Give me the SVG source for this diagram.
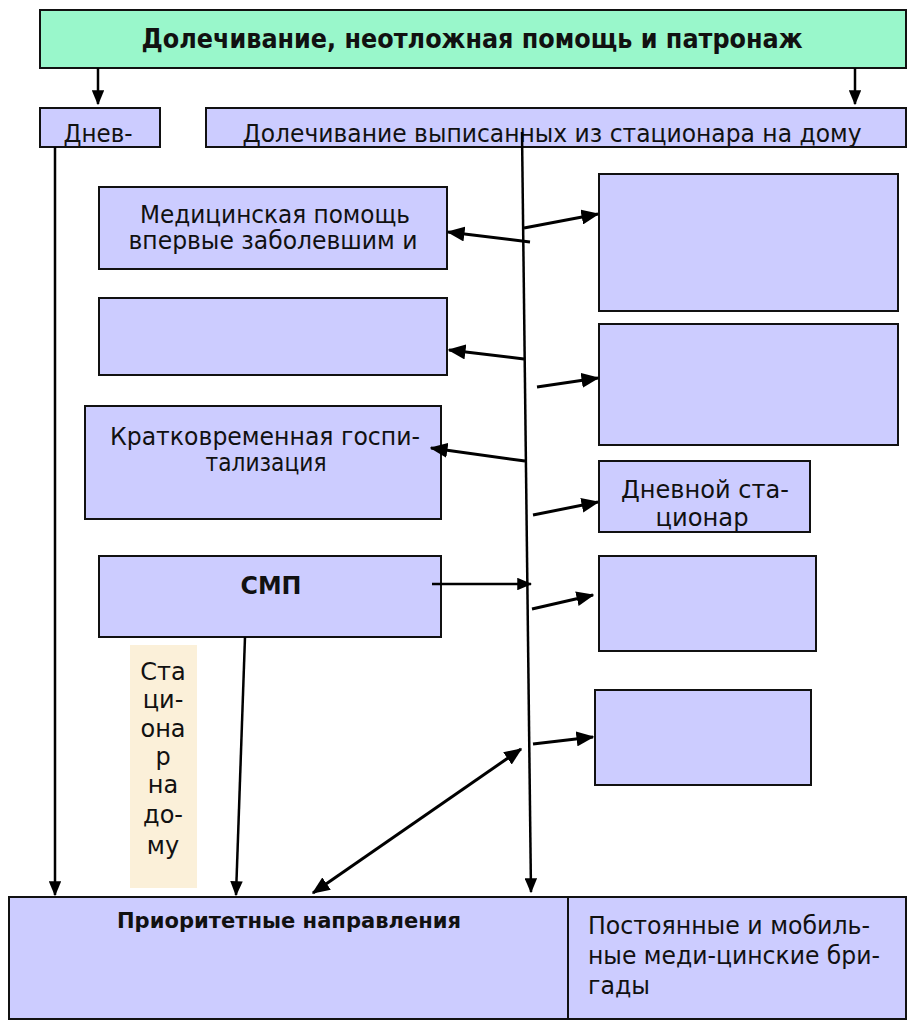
<svg xmlns="http://www.w3.org/2000/svg" width="910" height="1025" viewBox="0 0 910 1025">
<defs>
<style>
.box{fill:#CCCCFF;stroke:#111;stroke-width:2}
.t{font-family:"DejaVu Sans","Verdana",sans-serif;font-size:24px;fill:#111}
.b{font-family:"DejaVu Sans","Verdana",sans-serif;font-weight:bold;fill:#111}
.c{stroke:#000;stroke-width:3;fill:none}
.v{stroke:#000;stroke-width:2.5;fill:none}
</style>
<marker id="ah" viewBox="0 0 12 10" refX="11" refY="5" markerWidth="6" markerHeight="5" markerUnits="strokeWidth" orient="auto-start-reverse">
<path d="M0,0 L12,5 L0,10 z" fill="#000"/>
</marker>
<clipPath id="cl1"><rect x="40" y="108" width="120" height="39"/></clipPath>
<clipPath id="cl2"><rect x="206" y="108" width="700" height="39"/></clipPath>
<clipPath id="cl3"><rect x="599" y="461" width="211" height="71"/></clipPath>
</defs>
<rect width="910" height="1025" fill="#fff"/>

<g id="top">
<rect x="40" y="10" width="866" height="58" fill="#99F7CB" stroke="#111" stroke-width="2"/>
<text class="b" x="472" y="48" font-size="27" text-anchor="middle" textLength="661" lengthAdjust="spacingAndGlyphs">Долечивание, неотложная помощь и патронаж</text>
</g>

<g id="dnev">
<rect class="box" x="40" y="108" width="120" height="39"/>
<text class="t" x="98" y="142" text-anchor="middle" clip-path="url(#cl1)" textLength="69" lengthAdjust="spacingAndGlyphs">Днев-</text>
</g>

<g id="dolech">
<rect class="box" x="206" y="108" width="700" height="39"/>
<text class="t" x="552" y="142" text-anchor="middle" clip-path="url(#cl2)" textLength="619" lengthAdjust="spacingAndGlyphs">Долечивание выписанных из стационара на дому</text>
</g>

<g id="med">
<rect class="box" x="99" y="187" width="348" height="82"/>
<text class="t" x="275" y="223" text-anchor="middle" textLength="270" lengthAdjust="spacingAndGlyphs">Медицинская помощь</text>
<text class="t" x="273" y="249" text-anchor="middle" textLength="289" lengthAdjust="spacingAndGlyphs">впервые заболевшим и</text>
</g>

<g id="left2">
<rect class="box" x="99" y="298" width="348" height="77"/>
</g>

<g id="krat">
<rect class="box" x="85" y="406" width="356" height="113"/>
<text class="t" x="265" y="445" text-anchor="middle" textLength="310" lengthAdjust="spacingAndGlyphs">Кратковременная госпи-</text>
<text class="t" x="266" y="471" text-anchor="middle" textLength="121" lengthAdjust="spacingAndGlyphs">тализация</text>
</g>

<g id="smp">
<rect class="box" x="99" y="556" width="342" height="81"/>
<text class="b" x="271" y="594" font-size="25" text-anchor="middle" textLength="61" lengthAdjust="spacingAndGlyphs">СМП</text>
</g>

<g id="right1"><rect class="box" x="599" y="174" width="299" height="137"/></g>
<g id="right2"><rect class="box" x="599" y="324" width="299" height="121"/></g>
<g id="dnevstac">
<rect class="box" x="599" y="461" width="211" height="71"/>
<text class="t" x="705" y="498" text-anchor="middle" clip-path="url(#cl3)" textLength="168" lengthAdjust="spacingAndGlyphs">Дневной ста-</text>
<text class="t" x="702" y="526" text-anchor="middle" clip-path="url(#cl3)" textLength="93" lengthAdjust="spacingAndGlyphs">ционар</text>
</g>
<g id="right4"><rect class="box" x="599" y="556" width="217" height="95"/></g>
<g id="right5"><rect class="box" x="595" y="690" width="216" height="95"/></g>

<g id="stac">
<rect x="130" y="645" width="67" height="243" fill="#FBF0D9"/>
<g class="t" text-anchor="middle" style="font-size:24px">
<text x="163" y="680">Ста</text>
<text x="163" y="708">ци-</text>
<text x="163" y="737">она</text>
<text x="163" y="765">р</text>
<text x="163" y="793">на</text>
<text x="163" y="823">до-</text>
<text x="163" y="854">му</text>
</g>
</g>

<g id="bottom">
<rect class="box" x="9" y="897" width="897" height="122"/>
<line x1="568" y1="897" x2="568" y2="1019" stroke="#111" stroke-width="2"/>
<text class="b" x="289" y="928" font-size="21" text-anchor="middle" textLength="344" lengthAdjust="spacingAndGlyphs">Приоритетные направления</text>
<text class="t" x="588" y="934" textLength="282" lengthAdjust="spacingAndGlyphs">Постоянные и мобиль-</text>
<text class="t" x="588" y="964" textLength="292" lengthAdjust="spacingAndGlyphs">ные меди-цинские бри-</text>
<text class="t" x="588" y="994" textLength="62" lengthAdjust="spacingAndGlyphs">гады</text>
</g>

<g id="connectors">
<line class="v" x1="98" y1="68" x2="98" y2="104" marker-end="url(#ah)"/>
<line class="v" x1="855" y1="68" x2="855" y2="104" marker-end="url(#ah)"/>
<line class="v" x1="55" y1="147" x2="55" y2="895" marker-end="url(#ah)"/>
<line class="v" x1="522" y1="132" x2="531" y2="892" marker-end="url(#ah)"/>
<line class="c" x1="530" y1="242" x2="448" y2="232" marker-end="url(#ah)"/>
<line class="c" x1="524" y1="228" x2="598" y2="214" marker-end="url(#ah)"/>
<line class="c" x1="524" y1="359" x2="449" y2="350" marker-end="url(#ah)"/>
<line class="c" x1="537" y1="387" x2="598" y2="378" marker-end="url(#ah)"/>
<line class="c" x1="525" y1="461" x2="431" y2="448" marker-end="url(#ah)"/>
<line class="c" x1="533" y1="515" x2="598" y2="502" marker-end="url(#ah)"/>
<line class="v" x1="432" y1="584" x2="531" y2="584" marker-end="url(#ah)"/>
<line class="c" x1="532" y1="609" x2="593" y2="595" marker-end="url(#ah)"/>
<line class="c" x1="533" y1="744" x2="593" y2="737" marker-end="url(#ah)"/>
<line class="c" x1="521" y1="749" x2="313" y2="893" marker-start="url(#ah)" marker-end="url(#ah)"/>
<line class="v" x1="245" y1="637" x2="236" y2="895" marker-end="url(#ah)"/>
</g>
</svg>
